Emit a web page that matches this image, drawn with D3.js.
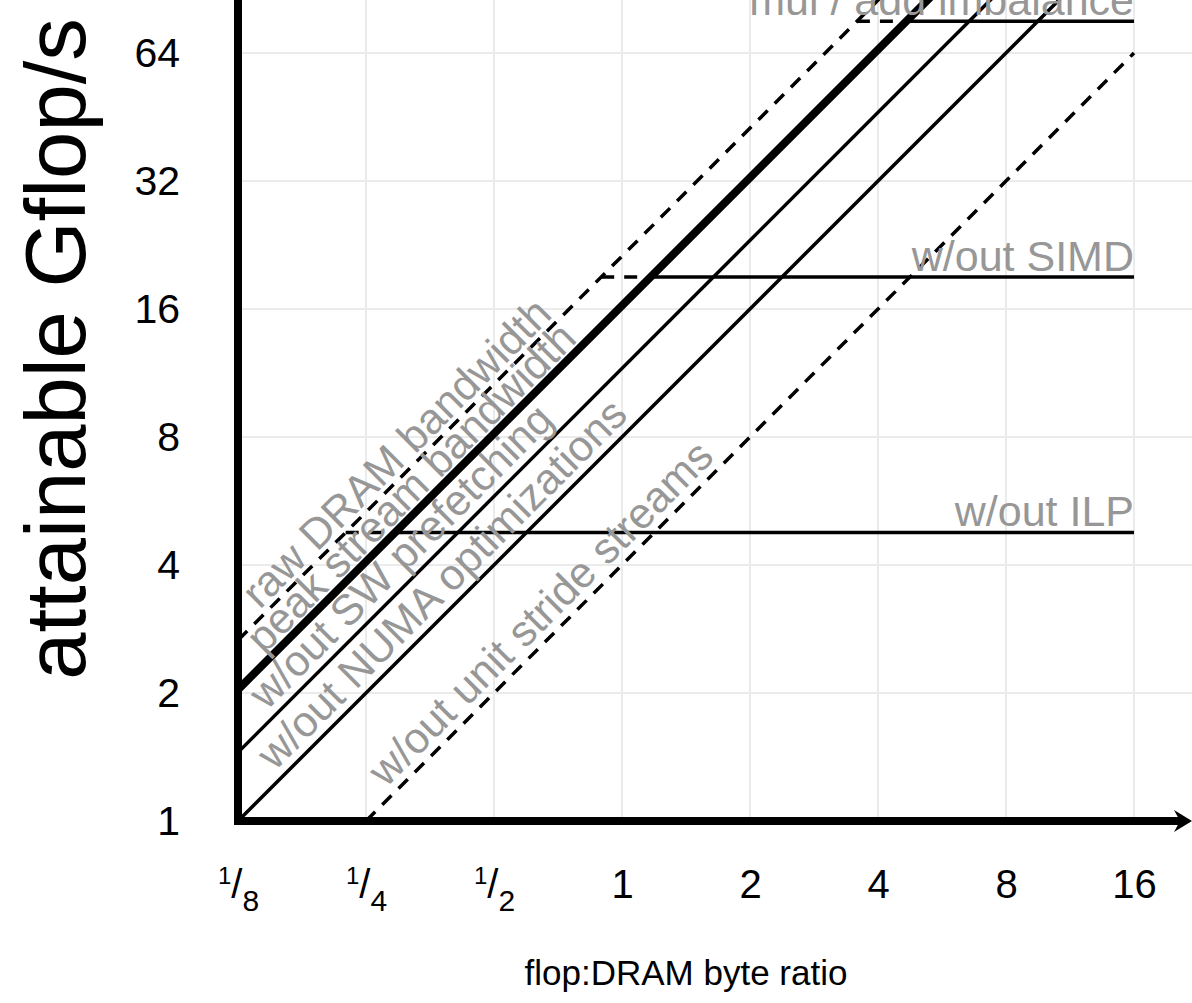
<!DOCTYPE html>
<html><head><meta charset="utf-8">
<script src="https://cdn.jsdelivr.net/npm/d3@7"></script>
<style>body{margin:0;background:#fff}svg{display:block}text{font-family:"Liberation Sans",Arial,Helvetica,sans-serif}</style>
</head><body><svg id="c" width="1192" height="1003"></svg>
<script>
// ---- data ----
const xTicks = [1/8, 1/4, 1/2, 1, 2, 4, 8, 16];
const xTickLabels = [["1","8"], ["1","4"], ["1","2"], "1", "2", "4", "8", "16"];
const yTicks = [1, 2, 4, 8, 16, 32, 64];
const yTickLabels = ["1", "2", "4", "8", "16", "32", "64"];
// bandwidth ceilings (GB/s): attainable Gflop/s = bandwidth * ratio
const bwNames = ["raw DRAM bandwidth", "peak stream bandwidth", "w/out SW prefetching", "w/out NUMA optimizations", "w/out unit stride streams"];
const bwValues = [21.3, 16.3, 11.6, 8, 4];
// in-core ceilings (Gflop/s)
const ceilNames = ["mul / add imbalance", "w/out SIMD", "w/out ILP"];
const ceilValues = [76, 19.03, 4.77];
const xTitle = "flop:DRAM byte ratio";
const yTitle = "attainable Gflop/s";

// ---- drawing ----
const svg = d3.select("#c");
const x = d3.scaleLog().base(2).domain([1/8, 16]).range([238, 1134]);
const y = d3.scaleLog().base(2).domain([1, 64]).range([821, 53]);
const X0 = x(1/8), Y0 = y(1);
const grey = "#979797";

svg.append("defs").append("clipPath").attr("id", "clip")
  .append("rect").attr("x", X0).attr("y", 0).attr("width", 1192 - X0).attr("height", Y0);

// grid
const grid = svg.append("g").attr("stroke", "#ebebeb").attr("stroke-width", 2);
grid.selectAll(".gv").data(xTicks.slice(1)).join("line")
  .attr("x1", d => x(d)).attr("x2", d => x(d)).attr("y1", 0).attr("y2", Y0);
grid.selectAll(".gh").data(yTicks.slice(1)).join("line")
  .attr("x1", X0).attr("x2", 1192).attr("y1", d => y(d)).attr("y2", d => y(d));

const plot = svg.append("g").attr("clip-path", "url(#clip)");
const bwStyle = [
  {w: 3.5, dash: "13,10"},
  {w: 8, dash: null},
  {w: 3.5, dash: null},
  {w: 3.5, dash: null},
  {w: 3.5, dash: "13,10"}
];
const line = d3.line().x(d => x(d[0])).y(d => y(d[1]));
bwValues.forEach((bw, i) => {
  const xs = Math.max(1/8, 1/bw);
  plot.append("path").attr("d", line([[xs, bw*xs], [16, bw*16]]))
    .attr("fill", "none").attr("stroke", "#000").attr("stroke-width", bwStyle[i].w)
    .attr("stroke-dasharray", bwStyle[i].dash);
});
// ceilings: dashed between raw DRAM and peak stream, solid after
const rawBw = bwValues[0], streamBw = bwValues[1];
ceilValues.forEach(c => {
  plot.append("path").attr("d", line([[c/rawBw, c], [c/streamBw, c]]))
    .attr("stroke", "#000").attr("stroke-width", 3.5).attr("stroke-dasharray", "13,10");
  plot.append("path").attr("d", line([[c/streamBw, c], [16, c]]))
    .attr("stroke", "#000").attr("stroke-width", 3.5);
});

// axes lines
svg.append("line").attr("x1", X0).attr("x2", X0).attr("y1", -5).attr("y2", Y0 + 4)
  .attr("stroke", "#000").attr("stroke-width", 8);
svg.append("line").attr("x1", X0 - 4).attr("x2", 1180).attr("y1", Y0).attr("y2", Y0)
  .attr("stroke", "#000").attr("stroke-width", 8);
svg.append("path").attr("d", `M1192,${Y0} L1174,${Y0-11} L1180,${Y0} L1174,${Y0+11} Z`).attr("fill", "#000");

// diagonal labels
const bwLabelPos = [{x: 0.1438, off: 6}, {x: 0.1473, off: 6}, {x: 0.1511, off: 9}, {x: 0.1578, off: 9}, {x: 0.2885, off: 9}];
bwNames.forEach((n, i) => {
  const lx = bwLabelPos[i].x;
  const px = x(lx), py = y(bwValues[i]*lx);
  svg.append("text").attr("transform", `translate(${px},${py}) rotate(-45)`)
    .attr("y", -bwLabelPos[i].off).attr("font-size", 43).attr("fill", grey).text(n);
});
// ceiling labels
ceilNames.forEach((n, i) => {
  svg.append("text").attr("x", x(16)).attr("y", y(ceilValues[i]) - 6)
    .attr("text-anchor", "end").attr("font-size", 43).attr("fill", grey).text(n);
});

// tick labels
const ya = svg.append("g").attr("transform", `translate(${X0},0)`)
  .call(d3.axisLeft(y).tickValues(yTicks).tickFormat((d, i) => yTickLabels[i]).tickSize(0).tickPadding(58));
ya.select(".domain").remove();
ya.selectAll("text").attr("font-size", 41).attr("font-family", null).attr("fill", "#000");

const xa = svg.append("g").attr("transform", `translate(0,${Y0})`)
  .call(d3.axisBottom(x).tickValues(xTicks).tickFormat((d, i) => Array.isArray(xTickLabels[i]) ? "" : xTickLabels[i]).tickSize(0).tickPadding(49));
xa.select(".domain").remove();
xa.selectAll("text").attr("font-size", 40).attr("font-family", null).attr("fill", "#000")
  .each(function(d, i) {
    const lab = xTickLabels[i];
    if (!Array.isArray(lab)) return;
    const t = d3.select(this).attr("dy", null).attr("y", 77).text("");
    t.append("tspan").attr("font-size", 24).attr("dy", -14).text(lab[0]);
    t.append("tspan").attr("font-size", 40).attr("dy", 14).text("/");
    t.append("tspan").attr("font-size", 30).attr("dy", 13).text(lab[1]);
  });

// titles
svg.append("text").attr("transform", "translate(85,349) rotate(-90)")
  .attr("text-anchor", "middle").attr("font-size", 85).attr("fill", "#000").text(yTitle);
svg.append("text").attr("x", 686).attr("y", 985)
  .attr("text-anchor", "middle").attr("font-size", 35).attr("fill", "#000").text(xTitle);
</script></body></html>
